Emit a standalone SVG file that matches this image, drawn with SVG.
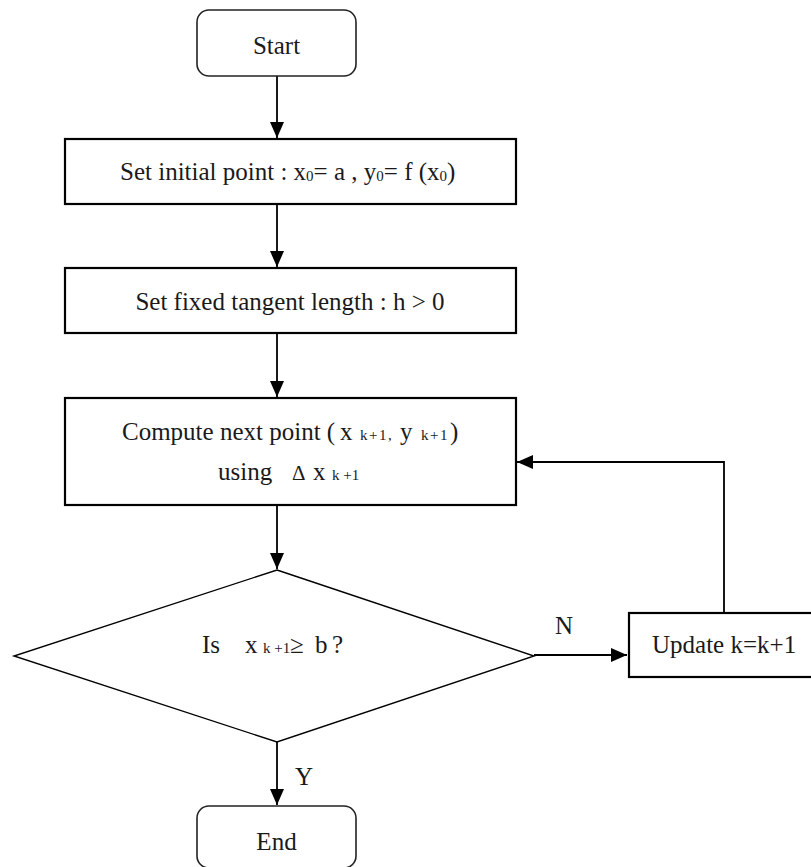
<svg xmlns="http://www.w3.org/2000/svg" width="811" height="867" viewBox="0 0 811 867">
<style>
  text { font-family: "Liberation Serif", "Times New Roman", serif; font-size: 25px; fill: #1a1a1a; }
  .sub { font-size: 15px; }
  .box { fill: #ffffff; stroke: #000000; stroke-width: 2.2; }
  .term { fill: #ffffff; stroke: #222222; stroke-width: 1.6; }
  .dia { fill: #ffffff; stroke: #000000; stroke-width: 1.4; }
  .conn { fill: none; stroke: #000000; stroke-width: 1.8; }
</style>
<defs>
  <marker id="arrow" markerUnits="userSpaceOnUse" markerWidth="16" markerHeight="14" viewBox="0 0 16 14" refX="16" refY="7" orient="auto">
    <path d="M0,0 L16,7 L0,14 z" fill="#000000"/>
  </marker>
</defs>
<rect width="811" height="867" fill="#ffffff"/>

<g id="connectors">
  <line class="conn" x1="277" y1="76" x2="277" y2="138" marker-end="url(#arrow)"/>
  <line class="conn" x1="277" y1="204" x2="277" y2="267" marker-end="url(#arrow)"/>
  <line class="conn" x1="277" y1="333" x2="277" y2="397" marker-end="url(#arrow)"/>
  <line class="conn" x1="277" y1="505" x2="277" y2="569" marker-end="url(#arrow)"/>
  <line class="conn" x1="277" y1="742" x2="277" y2="805" marker-end="url(#arrow)"/>
  <line class="conn" x1="534" y1="655" x2="627" y2="655" marker-end="url(#arrow)"/>
  <polyline class="conn" points="724,613 724,462 517,462" marker-end="url(#arrow)"/>
  <text x="555" y="634">N</text>
  <text x="295" y="785">Y</text>
</g>

<g id="start">
  <rect class="term" x="197" y="10" width="159" height="66" rx="12" ry="12"/>
  <text x="276.5" y="54" text-anchor="middle">Start</text>
</g>

<g id="init">
  <rect class="box" x="65" y="139" width="451" height="65"/>
  <text x="120" y="180">Set initial point : x<tspan class="sub" dy="1">0</tspan><tspan dy="-1">= a , y</tspan><tspan class="sub" dy="1">0</tspan><tspan dy="-1">= f (x</tspan><tspan class="sub" dy="1">0</tspan><tspan dy="-1">)</tspan></text>
</g>

<g id="tangent">
  <rect class="box" x="65" y="268" width="451" height="65"/>
  <text x="290" y="310" text-anchor="middle">Set fixed tangent length : h &gt; 0</text>
</g>

<g id="compute">
  <rect class="box" x="65" y="398" width="451" height="107"/>
  <text x="122" y="440">Compute next point (<tspan x="340">x</tspan><tspan class="sub" x="360" font-size="14" letter-spacing="1.5">k+1,</tspan><tspan x="400">y</tspan><tspan class="sub" x="421" font-size="14" letter-spacing="1.5">k+1</tspan><tspan x="450">)</tspan></text>
  <text x="218" y="480">using<tspan x="292" font-size="21">Δ</tspan><tspan x="313">x</tspan><tspan class="sub" x="332">k +1</tspan></text>
</g>

<g id="decision">
  <polygon class="dia" points="277,570 534,656 277,742 14,656"/>
  <text x="202" y="653">Is<tspan x="245">x</tspan><tspan class="sub" x="263">k +1</tspan><tspan x="290">≥</tspan><tspan x="315">b</tspan><tspan x="332">?</tspan></text>
</g>

<g id="update">
  <rect class="box" x="629" y="613" width="190" height="64"/>
  <text x="652" y="653">Update k=k+1</text>
</g>

<g id="end">
  <rect class="term" x="197" y="806" width="159" height="62" rx="12" ry="12"/>
  <text x="276.5" y="850" text-anchor="middle">End</text>
</g>
</svg>
